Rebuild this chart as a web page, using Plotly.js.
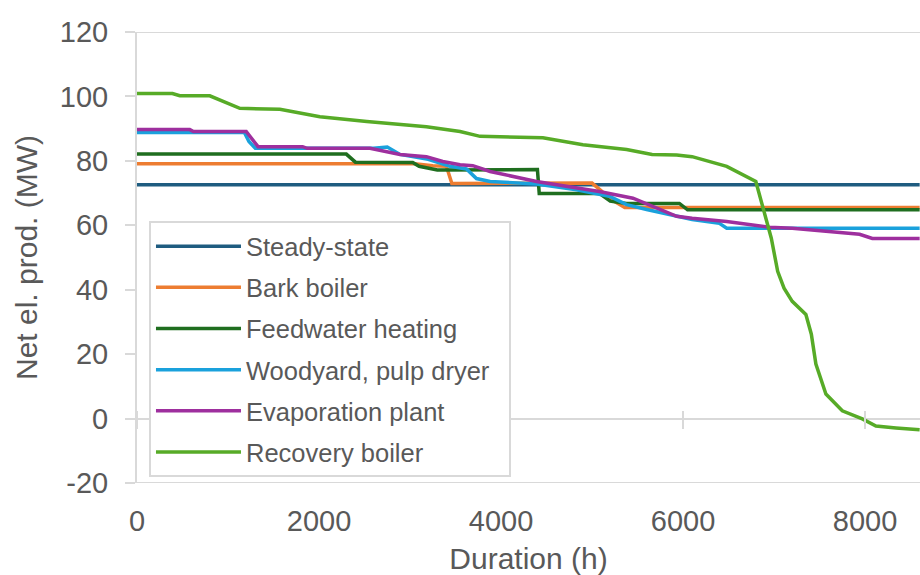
<!DOCTYPE html>
<html>
<head>
<meta charset="utf-8">
<script src="https://cdn.plot.ly/plotly-3.0.1.min.js"></script>
<style>html,body{margin:0;padding:0;background:#fff;}#chart{width:920px;height:575px;}</style>
</head>
<body>
<div id="chart"></div>
<script>
// Series names
const seriesNames = ["Steady-state", "Bark boiler", "Feedwater heating", "Woodyard, pulp dryer", "Evaporation plant", "Recovery boiler"];

// Duration (h) and net electricity production (MW) per series
const steadyX = [0, 8600];
const steadyY = [72.6, 72.6];

const barkX = [0, 3050, 3250, 3400, 3460, 4600, 5000, 5110, 5150, 5360, 8600];
const barkY = [79.1, 79.1, 78.5, 78.3, 73.0, 73.0, 73.1, 70.5, 69.0, 65.5, 65.5];

const feedX = [0, 2300, 2400, 3030, 3100, 3300, 4400, 4420, 5080, 5200, 5380, 5960, 6050, 8600];
const feedY = [82.1, 82.1, 79.6, 79.5, 78.3, 77.2, 77.3, 69.9, 69.9, 67.5, 66.8, 66.8, 64.8, 64.8];

const woodX = [0, 1180, 1230, 1300, 2600, 2750, 2890, 3200, 3440, 3620, 3730, 3880, 4390, 4830, 5190, 5380, 5600, 6100, 6400, 6480, 8600];
const woodY = [88.8, 88.8, 86.0, 83.9, 83.9, 84.3, 82.0, 80.5, 78.3, 77.5, 74.5, 73.6, 72.8, 71.0, 69.0, 66.4, 64.9, 61.8, 60.6, 59.1, 59.1];

const evapX = [0, 580, 620, 1200, 1330, 1820, 1870, 2560, 2890, 3180, 3360, 3550, 3690, 3880, 4390, 5080, 5450, 5930, 6100, 6480, 6950, 7200, 7940, 8080, 8600];
const evapY = [89.7, 89.7, 89.1, 89.1, 84.4, 84.4, 83.9, 83.9, 82.0, 81.3, 79.8, 78.8, 78.5, 76.7, 73.6, 70.5, 68.4, 62.8, 62.2, 61.2, 59.4, 59.1, 57.2, 55.9, 55.9];

const recovX = [0, 390, 470, 800, 1130, 1570, 2010, 2525, 3180, 3550, 3770, 4460, 4900, 5380, 5660, 5930, 6100, 6480, 6800, 6870, 6970, 7040, 7110, 7200, 7350, 7410, 7460, 7570, 7750, 7970, 8120, 8340, 8600];
const recovY = [100.9, 100.9, 100.2, 100.2, 96.3, 96.0, 93.7, 92.2, 90.6, 89.1, 87.6, 87.2, 85.0, 83.5, 82.0, 81.8, 81.3, 78.3, 73.6, 66.4, 56.0, 45.7, 40.5, 36.4, 32.3, 26.2, 16.9, 7.6, 2.4, -0.1, -2.3, -2.9, -3.5];

// Axis ticks
const yTicks = [-20, 0, 20, 40, 60, 80, 100, 120];
const xTicks = [0, 2000, 4000, 6000, 8000];

const colors = ["#1f5c80", "#ed7d31", "#1f6e1f", "#1aa1dc", "#9e2f9e", "#57ab27"];
const xs = [steadyX, barkX, feedX, woodX, evapX, recovX];
const ys = [steadyY, barkY, feedY, woodY, evapY, recovY];

// widen the legend box a little on its right side (invisible padding)
const legendPad = "\u00a0\u00a0";

const traces = seriesNames.map((n, i) => ({
  x: xs[i], y: ys[i], name: i === 3 ? n + legendPad : n, type: "scatter", mode: "lines",
  legendgroup: "g" + i,
  line: {color: colors[i], width: 3.5},
  hoverinfo: "skip"
}));

const fontFam = "Liberation Sans, Arial, sans-serif";
const txt = "#595959";
const axCol = "#d9d9d9";
const xRange = [0, 8604];
const yRange = [-20, 120];
const plotH = 575 - 31.5 - 91.7;
const crossHalf = 9; // px of tick above/below the zero line
const zeroFrac = (0 - yRange[0]) / (yRange[1] - yRange[0]);

const layout = {
  width: 920, height: 575,
  margin: {l: 137, r: 0, t: 31.5, b: 91.7},
  paper_bgcolor: "#fff", plot_bgcolor: "#fff",
  font: {family: fontFam, color: txt},
  showlegend: true,
  legend: {
    x: 0.0153, y: 0.5806, xanchor: "left", yanchor: "top",
    bordercolor: axCol, borderwidth: 2, bgcolor: "#fff",
    font: {size: 25.5, color: txt, family: fontFam},
    itemwidth: 85, tracegroupgap: 5, traceorder: "grouped"
  },
  xaxis: {
    range: xRange, tickvals: xTicks, ticktext: xTicks.map(String),
    anchor: "free", position: zeroFrac + crossHalf / plotH,
    showgrid: false, zeroline: false, showline: false,
    ticks: "outside", ticklen: 2 * crossHalf, tickwidth: 2, tickcolor: axCol,
    tickfont: {size: 29, color: txt}, ticklabelstandoff: 68,
    title: {text: "Duration (h)", font: {size: 30, color: txt}, standoff: 15}
  },
  yaxis: {
    range: yRange, tickvals: yTicks, ticktext: yTicks.map(String),
    showgrid: false, zeroline: true, zerolinecolor: axCol, zerolinewidth: 2,
    showline: true, linecolor: axCol, linewidth: 2,
    ticks: "outside", ticklen: 10, tickwidth: 2, tickcolor: axCol,
    tickfont: {size: 29, color: txt}, ticklabelstandoff: 11,
    title: {text: "Net el. prod. (MW)", font: {size: 30, color: txt}, standoff: 13}
  },
  shapes: [
    {type: "line", xref: "paper", yref: "y", x0: -0.0128, x1: 1, y0: 120, y1: 120, line: {color: axCol, width: 2}, layer: "below"},
    {type: "line", xref: "paper", yref: "y", x0: -0.0128, x1: 1, y0: -20, y1: -20, line: {color: axCol, width: 2}, layer: "below"}
  ]
};

Plotly.newPlot("chart", traces, layout, {staticPlot: true, displayModeBar: false});
</script>
</body>
</html>
